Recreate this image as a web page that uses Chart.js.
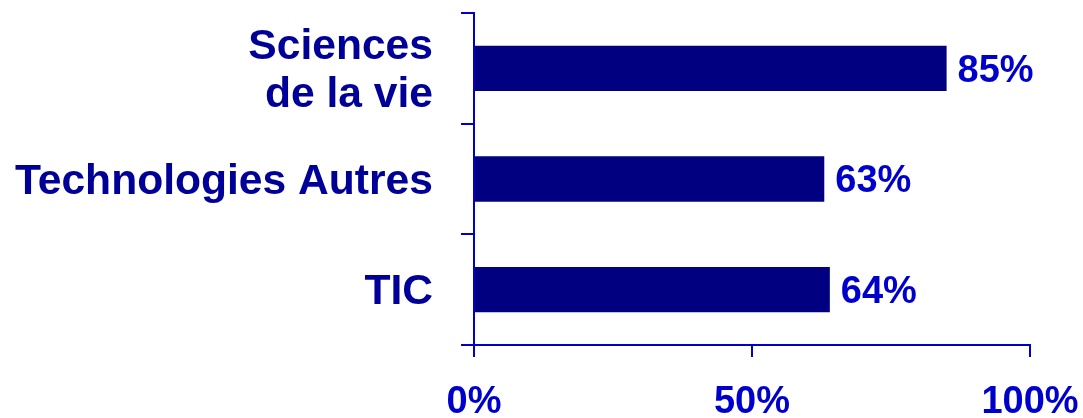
<!DOCTYPE html>
<html>
<head>
<meta charset="utf-8">
<script src="https://cdn.jsdelivr.net/npm/chart.js@4/dist/chart.umd.min.js"></script>
<style>
  html, body { margin: 0; padding: 0; background: #ffffff; }
  #wrap { width: 1083px; height: 418px; position: relative; }
</style>
</head>
<body>
<div id="wrap"><canvas id="barChart"></canvas></div>
<script>
// données
const categories = [['Sciences', 'de la vie'], 'Technologies Autres', 'TIC'];
const shares = [85, 63, 64];
const tickLabels = ['0%', '50%', '100%'];

const FONT = '"Liberation Sans", Arial, sans-serif';
const NAVY = '#000080';
const BLUE = '#0000CC';

// étiquettes de valeur au bout des barres
const valueLabels = {
    id: 'valueLabels',
    afterDatasetsDraw(chart) {
        const ctx = chart.ctx;
        const meta = chart.getDatasetMeta(0);
        ctx.save();
        ctx.font = 'bold 38px ' + FONT;
        ctx.fillStyle = BLUE;
        ctx.textAlign = 'left';
        ctx.textBaseline = 'middle';
        meta.data.forEach((bar, i) => {
            ctx.fillText(shares[i] + '%', bar.x + 11, bar.y + 3);
        });
        ctx.restore();
    }
};

// pas de marge automatique autour des étiquettes
function noPadding(scale) {
    scale.paddingTop = 0;
    scale.paddingBottom = 0;
    scale.paddingLeft = 0;
    scale.paddingRight = 0;
}

new Chart(document.getElementById('barChart'), {
    type: 'bar',
    data: {
        labels: categories,
        datasets: [{
            data: shares,
            backgroundColor: NAVY,
            borderWidth: 0,
            barPercentage: 0.41,
            categoryPercentage: 1
        }]
    },
    options: {
        indexAxis: 'y',
        responsive: true,
        maintainAspectRatio: false,
        animation: false,
        layout: { padding: { top: 13, left: 15, right: 53, bottom: 0 } },
        plugins: {
            legend: { display: false },
            tooltip: { enabled: false }
        },
        scales: {
            x: {
                min: 0,
                max: 100,
                afterFit: (scale) => { noPadding(scale); scale.height = 73; },
                ticks: {
                    stepSize: 50,
                    color: BLUE,
                    padding: 27,
                    maxRotation: 0,
                    autoSkip: false,
                    font: { family: FONT, size: 38, weight: 'bold', lineHeight: 1 },
                    callback: (v) => tickLabels[v / 50]
                },
                grid: {
                    drawOnChartArea: false,
                    tickLength: 12,
                    color: BLUE,
                    lineWidth: 2
                },
                border: { color: BLUE, width: 2 }
            },
            y: {
                afterFit: (scale) => { noPadding(scale); scale.width = 459; },
                ticks: {
                    color: '#000099',
                    padding: 28,
                    autoSkip: false,
                    labelOffset: 3,
                    font: { family: FONT, size: 42.6, weight: 'bold', lineHeight: 1.13 }
                },
                grid: {
                    drawOnChartArea: false,
                    offset: true,
                    tickLength: 13,
                    color: BLUE,
                    lineWidth: 2
                },
                border: { color: BLUE, width: 2 }
            }
        }
    },
    plugins: [valueLabels]
});
</script>
</body>
</html>
